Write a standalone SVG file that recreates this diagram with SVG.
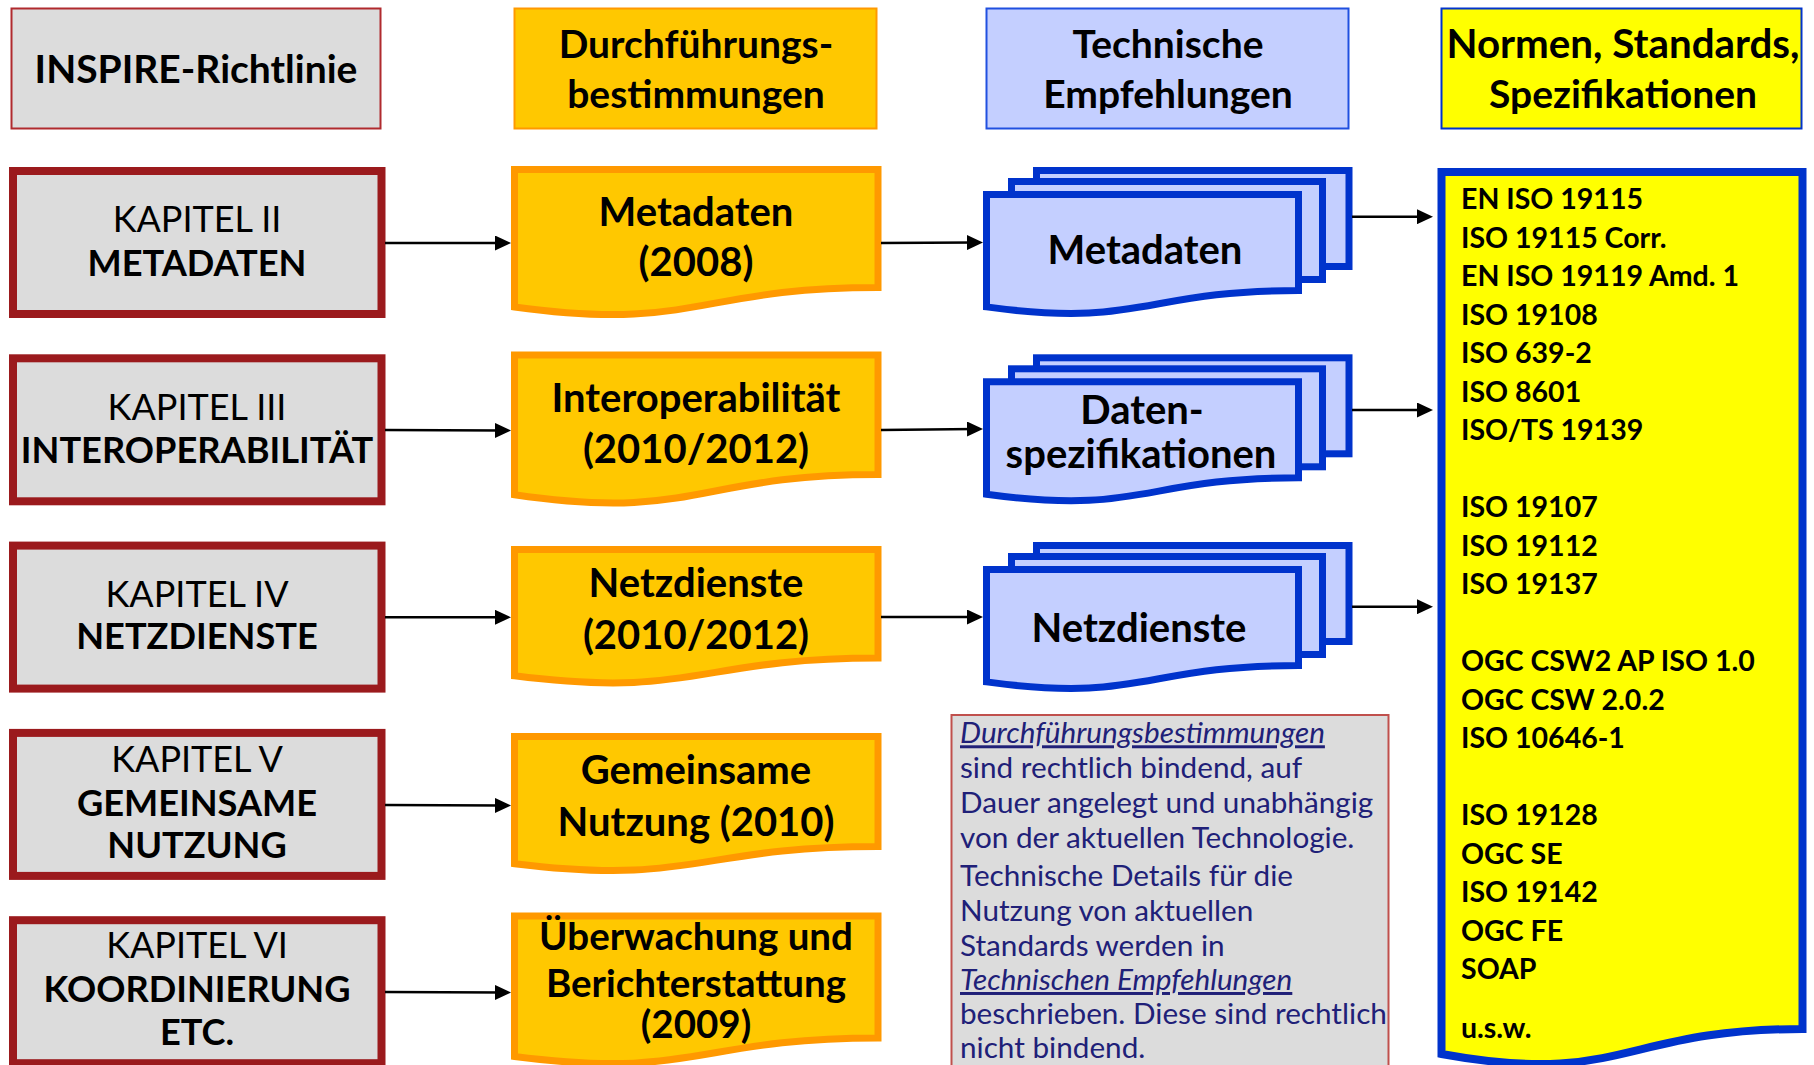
<svg xmlns="http://www.w3.org/2000/svg" width="1814" height="1065" viewBox="0 0 1814 1065">
<defs>
<style>
text{font-family:Lato,"Open Sans","Liberation Sans",sans-serif;fill:#000}
.hd{font-size:39px;font-weight:bold;text-anchor:middle}
.kr{font-size:36px;text-anchor:middle}
.kb{font-size:36.2px;font-weight:bold;text-anchor:middle}
.ot{font-size:40px;font-weight:bold;text-anchor:middle}
.o5{font-size:38.5px;font-weight:bold;text-anchor:middle}
.nl{font-size:28.5px;font-weight:bold}
.bt{font-size:29.7px;fill:#202078}
.it{font-style:italic;text-decoration:underline}
.kap{fill:#dcdcdc;stroke:#9b1a1d;stroke-width:8}
.orn{fill:#ffc800;stroke:#ff9900;stroke-width:7;stroke-linejoin:miter}
.blu{fill:#c4cfff;stroke:#0033cc;stroke-width:7;stroke-linejoin:miter}
.conn line{stroke:#000;stroke-width:2.5;marker-end:url(#ah)}
</style>
<marker id="ah" markerUnits="userSpaceOnUse" markerWidth="16" markerHeight="15" refX="8" refY="7.5" orient="auto">
<path d="M0,0 L16,7.5 L0,15 Z" fill="#000"/>
</marker>
</defs>
<rect width="1814" height="1065" fill="#fff"/>

<!-- headers -->
<g id="h-inspire">
<rect x="11.5" y="8.5" width="369" height="120" fill="#dcdcdc" stroke="#b02a2e" stroke-width="2"/>
<text class="hd" x="196" y="83">INSPIRE-Richtlinie</text>
</g>
<g id="h-durch">
<rect x="514.5" y="8.5" width="362" height="120" fill="#ffc800" stroke="#ff9900" stroke-width="2"/>
<text class="hd" x="696" y="58">Durchführungs-</text>
<text class="hd" x="696" y="108">bestimmungen</text>
</g>
<g id="h-tech">
<rect x="986.5" y="8.5" width="362" height="120" fill="#c4cfff" stroke="#2050e0" stroke-width="2"/>
<text class="hd" x="1168" y="58">Technische</text>
<text class="hd" x="1168" y="108">Empfehlungen</text>
</g>
<g id="h-normen">
<rect x="1441.5" y="8.5" width="360" height="120" fill="#ffff00" stroke="#0033cc" stroke-width="2"/>
<text class="hd" x="1623" y="58" style="font-size:40.3px">Normen, Standards,</text>
<text class="hd" x="1623" y="108">Spezifikationen</text>
</g>

<!-- Kapitel -->
<g id="k2"><rect class="kap" x="13" y="171" width="368.5" height="143"/>
<text class="kr" x="197" y="231.7">KAPITEL II</text><text class="kb" x="197" y="275.7">METADATEN</text></g>
<g id="k3"><rect class="kap" x="13" y="358.3" width="368.5" height="143"/>
<text class="kr" x="197" y="419.5">KAPITEL III</text><text class="kb" x="197" y="462.7">INTEROPERABILITÄT</text></g>
<g id="k4"><rect class="kap" x="13" y="545.6" width="368.5" height="143"/>
<text class="kr" x="197" y="606.7">KAPITEL IV</text><text class="kb" x="197" y="649">NETZDIENSTE</text></g>
<g id="k5"><rect class="kap" x="13" y="732.9" width="368.5" height="143"/>
<text class="kr" x="197" y="771.7">KAPITEL V</text><text class="kb" x="197" y="815.7">GEMEINSAME</text><text class="kb" x="197" y="857.7">NUTZUNG</text></g>
<g id="k6"><rect class="kap" x="13" y="920.2" width="368.5" height="143"/>
<text class="kr" x="197" y="958">KAPITEL VI</text><text class="kb" x="197" y="1002.3">KOORDINIERUNG</text><text class="kb" x="197" y="1045">ETC.</text></g>

<!-- Durchführungsbestimmungen documents -->
<g id="d-meta"><path class="orn" d="M514.5,169.5 H878 V287.5 C696.25,287.5 696.25,332 514.5,307 Z"/>
<text class="ot" x="696" y="226">Metadaten</text><text class="ot" x="696" y="276">(2008)</text></g>
<g id="d-inter"><path class="orn" d="M514.5,355 H878 V474.5 C696.25,474.5 696.25,521.5 514.5,494.8 Z"/>
<text class="ot" x="696" y="412">Interoperabilität</text><text class="ot" x="696" y="463">(2010/2012)</text></g>
<g id="d-netz"><path class="orn" d="M514.5,549.5 H878 V658 C696.25,658 696.25,699 514.5,675.8 Z"/>
<text class="ot" x="696" y="597">Netzdienste</text><text class="ot" x="696" y="648.5">(2010/2012)</text></g>
<g id="d-gem"><path class="orn" d="M514.5,736.5 H878 V846.5 C696.25,846.5 696.25,886 514.5,863.7 Z"/>
<text class="ot" x="696" y="783.5">Gemeinsame</text><text class="ot" x="696" y="836">Nutzung (2010)</text></g>
<g id="d-ueber"><path class="orn" d="M514.5,916 H878 V1038 C696.25,1038 696.25,1080 514.5,1056.5 Z"/>
<text class="o5" x="696" y="950">Überwachung und</text><text class="o5" x="696" y="996.7">Berichterstattung</text><text class="o5" x="696" y="1037.5">(2009)</text></g>

<!-- Technische Empfehlungen stacks -->
<g id="t-meta">
<rect class="blu" x="1036.5" y="170.5" width="312.5" height="96"/>
<rect class="blu" x="1011.5" y="181.5" width="311" height="98"/>
<path class="blu" d="M986.5,194.5 H1298.5 V290.5 C1142.5,290.5 1142.5,328.3 986.5,306.9 Z"/>
<text class="ot" x="1145" y="263.5">Metadaten</text>
</g>
<g id="t-daten">
<rect class="blu" x="1036.5" y="357.8" width="312.5" height="96"/>
<rect class="blu" x="1011.5" y="368.8" width="311" height="98"/>
<path class="blu" d="M986.5,381.8 H1298.5 V477.8 C1142.5,477.8 1142.5,515.6 986.5,494.2 Z"/>
<text class="ot" x="1142" y="423.5">Daten-</text>
<text class="ot" x="1141" y="467.5">spezifikationen</text>
</g>
<g id="t-netz">
<rect class="blu" x="1036.5" y="545.5" width="312.5" height="96"/>
<rect class="blu" x="1011.5" y="556.5" width="311" height="98"/>
<path class="blu" d="M986.5,569.5 H1298.5 V665.5 C1142.5,665.5 1142.5,703.3 986.5,681.9 Z"/>
<text class="ot" x="1139" y="642">Netzdienste</text>
</g>

<!-- Normen list -->
<g id="normen">
<path d="M1441.5,172 H1802.5 V1029 C1622,1029 1622,1087 1441.5,1054 Z" fill="#ffff00" stroke="#0033cc" stroke-width="8"/>
<text class="nl" x="1461" y="209">EN ISO 19115</text>
<text class="nl" x="1461" y="247.5">ISO 19115 Corr.</text>
<text class="nl" x="1461" y="286">EN ISO 19119 Amd. 1</text>
<text class="nl" x="1461" y="324.5">ISO 19108</text>
<text class="nl" x="1461" y="363">ISO 639-2</text>
<text class="nl" x="1461" y="401.5">ISO 8601</text>
<text class="nl" x="1461" y="440">ISO/TS 19139</text>
<text class="nl" x="1461" y="517">ISO 19107</text>
<text class="nl" x="1461" y="555.5">ISO 19112</text>
<text class="nl" x="1461" y="594">ISO 19137</text>
<text class="nl" x="1461" y="671">OGC CSW2 AP ISO 1.0</text>
<text class="nl" x="1461" y="709.5">OGC CSW 2.0.2</text>
<text class="nl" x="1461" y="748">ISO 10646-1</text>
<text class="nl" x="1461" y="825">ISO 19128</text>
<text class="nl" x="1461" y="863.5">OGC SE</text>
<text class="nl" x="1461" y="902">ISO 19142</text>
<text class="nl" x="1461" y="940.5">OGC FE</text>
<text class="nl" x="1461" y="979">SOAP</text>
<text class="nl" x="1461" y="1038">u.s.w.</text>
</g>

<!-- note box -->
<g id="note">
<rect x="951.5" y="715" width="437" height="360" fill="#dcdcdc" stroke="#c0504d" stroke-width="2"/>
<text class="bt it" x="960" y="743.3">Durchführungsbestimmungen</text>
<text class="bt" x="960" y="778.3">sind rechtlich bindend, auf</text>
<text class="bt" x="960" y="813.3">Dauer angelegt und unabhängig</text>
<text class="bt" x="960" y="848.3">von der aktuellen Technologie.</text>
<text class="bt" x="960" y="885.7">Technische Details für die</text>
<text class="bt" x="960" y="921.3">Nutzung von aktuellen</text>
<text class="bt" x="960" y="955.7">Standards werden in</text>
<text class="bt it" x="960" y="990">Technischen Empfehlungen</text>
<text class="bt" x="960" y="1024">beschrieben. Diese sind rechtlich</text>
<text class="bt" x="960" y="1058.3">nicht bindend.</text>
</g>

<!-- connectors -->
<g id="connectors" class="conn">
<line x1="385" y1="243" x2="503" y2="243"/>
<line x1="881" y1="243" x2="975" y2="242.5"/>
<line x1="1352" y1="216.7" x2="1425" y2="216.7"/>
<line x1="385" y1="430" x2="503" y2="430.5"/>
<line x1="881" y1="430" x2="975" y2="429"/>
<line x1="1352" y1="410" x2="1425" y2="410"/>
<line x1="385" y1="617.3" x2="503" y2="617.3"/>
<line x1="881" y1="617" x2="975" y2="617"/>
<line x1="1352" y1="606.7" x2="1425" y2="606.7"/>
<line x1="385" y1="805" x2="503" y2="805.5"/>
<line x1="385" y1="992" x2="503" y2="992.5"/>
</g>
</svg>
